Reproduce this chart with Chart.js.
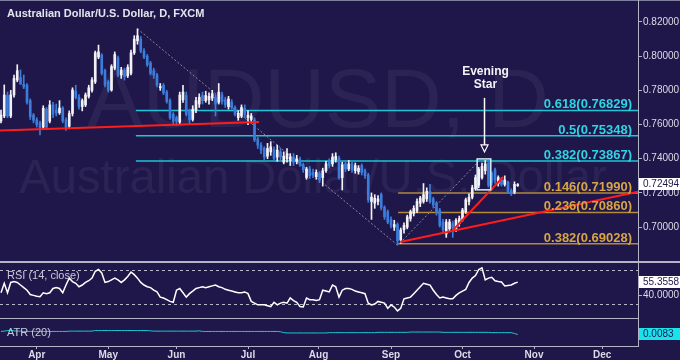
<!DOCTYPE html>
<html lang="en">
<head>
  <meta charset="UTF-8">
  <title>AUDUSD, D</title>
  <script src="https://cdn.jsdelivr.net/npm/chart.js"></script>
  <style>
    html, body { margin: 0; padding: 0; background: #1f1749; }
    .wrap { position: relative; width: 680px; height: 360px; background: #1f1749; overflow: hidden; }
    .wrap canvas { position: absolute; left: 0; }
    #priceChart { top: 0; }
    #rsiChart { top: 263px; }
    #atrChart { top: 319px; }
    .sep { position: absolute; background: #b4b4c8; }
  </style>
</head>
<body>
<div class="wrap">
  <canvas id="priceChart" width="680" height="261"></canvas>
  <canvas id="rsiChart" width="680" height="55"></canvas>
  <canvas id="atrChart" width="680" height="41"></canvas>
  <div class="sep" style="left:0;top:0;width:680px;height:1px;background:#7f7fa0"></div>
  <div class="sep" style="left:0;top:261px;width:680px;height:2px"></div>
  <div class="sep" style="left:0;top:318px;width:639px;height:1px"></div>
  <div class="sep" style="left:638px;top:0;width:1px;height:347px"></div>
</div>

<script>
  // bar index 0 = 17 Mar, one bar per weekday
  const xMin = -0.3077, xMax = 196;
  const monthTicks = [11, 33, 54, 76, 97.7, 120, 142, 164, 185];
  const monthLabels = ['Apr', 'May', 'Jun', 'Jul', 'Aug', 'Sep', 'Oct', 'Nov', 'Dec'];

  const priceTicks = [0.70, 0.72, 0.74, 0.76, 0.78, 0.80, 0.82];
  const priceMin = 0.68018, priceMax = 0.83287;

  const opens = [
    .7621,.7650,.7770,.7650,.7773,.7860,.7875,.7835,.7830,.7740,
    .7655,.7627,.7610,.7585,.7690,.7620,.7715,.7685,.7670,.7697,
    .7627,.7590,.7665,.7795,.7760,.7705,.7715,.7765,.7800,.7850,
    .7995,.8007,.7915,.7850,.7802,.7930,.7990,.7890,.7919,.7885,
    .7900,.8020,.8090,.8100,.8030,.8000,.7960,.7915,.7890,.7815,
    .7830,.7790,.7740,.7660,.7640,.7615,.7745,.7770,.7680,.7630,
    .7685,.7720,.7770,.7740,.7745,.7755,.7760,.7730,.7775,.7745,
    .7705,.7730,.7700,.7640,.7650,.7695,.7640,.7630,.7627,.7515,
    .7480,.7460,.7415,.7440,.7455,.7410,.7440,.7380,.7400,.7390,
    .7410,.7385,.7395,.7365,.7290,.7340,.7320,.7295,.7315,.7290,
    .7330,.7385,.7370,.7395,.7404,.7290,.7370,.7340,.7370,.7330,
    .7325,.7360,.7330,.7305,.7150,.7140,.7150,.7190,.7115,.7090,
    .7045,.7000,.7015,.6925,.6985,.7000,.7050,.7080,.7095,.7140,
    .7150,.7165,.7210,.7165,.7140,.7100,.7030,.6960,.6990,.7020,
    .6985,.7020,.7045,.7090,.7150,.7175,.7225,.7245,.7290,.7330,
    .7375,.7315,.7335,.7255,.7276,.7250,.7265,.7215,.7205,.7243
  ];
  const highs = [
    .7685,.7832,.7790,.7800,.7890,.7950,.7920,.7890,.7840,.7750,
    .7665,.7640,.7620,.7710,.7700,.7740,.7730,.7720,.7740,.7705,
    .7640,.7680,.7815,.7830,.7775,.7750,.7785,.7830,.7875,.8030,
    .8065,.8015,.7925,.7860,.7950,.8025,.8000,.7935,.7930,.7950,
    .8035,.8120,.8160,.8115,.8045,.8010,.7970,.7930,.7900,.7840,
    .7840,.7800,.7750,.7670,.7650,.7790,.7830,.7790,.7690,.7710,
    .7760,.7780,.7790,.7795,.7785,.7800,.7775,.7840,.7790,.7760,
    .7765,.7745,.7710,.7680,.7715,.7715,.7680,.7665,.7640,.7525,
    .7495,.7470,.7490,.7500,.7470,.7480,.7460,.7440,.7460,.7430,
    .7430,.7420,.7410,.7375,.7350,.7355,.7340,.7335,.7325,.7345,
    .7385,.7400,.7430,.7435,.7415,.7380,.7385,.7390,.7385,.7375,
    .7360,.7370,.7340,.7315,.7200,.7190,.7185,.7200,.7125,.7100,
    .7060,.7040,.7025,.6995,.7025,.7070,.7100,.7125,.7165,.7180,
    .7255,.7230,.7250,.7175,.7150,.7110,.7045,.7045,.7045,.7035,
    .7050,.7065,.7110,.7170,.7195,.7245,.7305,.7350,.7375,.7390,
    .7385,.7325,.7345,.7300,.7290,.7300,.7270,.7225,.7265,.7255
  ];
  const lows = [
    .7610,.7640,.7640,.7640,.7760,.7850,.7850,.7810,.7720,.7630,
    .7610,.7585,.7540,.7575,.7570,.7610,.7640,.7650,.7660,.7610,
    .7565,.7575,.7650,.7750,.7690,.7680,.7705,.7755,.7790,.7840,
    .7985,.7890,.7820,.7790,.7795,.7920,.7880,.7870,.7860,.7875,
    .7890,.8010,.8070,.8020,.7985,.7940,.7890,.7870,.7820,.7800,
    .7775,.7725,.7630,.7600,.7595,.7600,.7730,.7650,.7600,.7620,
    .7670,.7700,.7720,.7730,.7720,.7740,.7650,.7720,.7720,.7700,
    .7690,.7690,.7650,.7625,.7640,.7640,.7600,.7610,.7500,.7460,
    .7430,.7395,.7400,.7420,.7390,.7385,.7395,.7370,.7380,.7360,
    .7360,.7370,.7355,.7320,.7280,.7285,.7290,.7280,.7260,.7240,
    .7320,.7345,.7355,.7380,.7280,.7217,.7325,.7330,.7320,.7315,
    .7310,.7305,.7285,.7145,.7045,.7110,.7130,.7100,.7045,.7020,
    .6995,.6980,.6895,.6905,.6965,.6990,.7035,.7065,.7085,.7120,
    .7140,.7150,.7140,.7115,.7070,.7000,.6970,.6940,.6975,.6940,
    .6975,.7005,.7035,.7080,.7130,.7165,.7215,.7230,.7280,.7310,
    .7235,.7245,.7255,.7240,.7240,.7240,.7195,.7185,.7195,.7238
  ];
  const closes = [
    .7656,.7773,.7650,.7773,.7870,.7915,.7835,.7820,.7730,.7645,
    .7625,.7600,.7580,.7695,.7585,.7715,.7660,.7668,.7697,.7621,
    .7580,.7665,.7802,.7760,.7705,.7740,.7773,.7815,.7861,.8020,
    .8025,.7900,.7832,.7802,.7939,.8010,.7890,.7919,.7880,.7935,
    .8020,.8100,.8120,.8030,.7995,.7950,.7900,.7890,.7832,.7822,
    .7785,.7735,.7640,.7620,.7620,.7773,.7790,.7660,.7627,.7690,
    .7740,.7760,.7740,.7770,.7765,.7780,.7720,.7790,.7735,.7715,
    .7750,.7700,.7660,.7665,.7700,.7660,.7655,.7650,.7510,.7480,
    .7451,.7410,.7460,.7470,.7400,.7450,.7410,.7415,.7430,.7410,
    .7380,.7400,.7365,.7335,.7340,.7300,.7305,.7320,.7276,.7330,
    .7370,.7360,.7410,.7415,.7290,.7365,.7340,.7370,.7335,.7360,
    .7345,.7320,.7300,.7159,.7175,.7170,.7165,.7115,.7060,.7030,
    .7010,.7015,.6920,.6983,.7010,.7060,.7090,.7110,.7150,.7170,
    .7190,.7210,.7150,.7130,.7085,.7010,.6985,.7030,.7030,.6995,
    .7040,.7050,.7100,.7160,.7175,.7230,.7290,.7340,.7355,.7370,
    .7245,.7260,.7275,.7290,.7250,.7276,.7205,.7200,.7250,.7249
  ];
  const lastPrice = 0.72494;

  const rsiValues = [
    43,54,43,55,56,55,52,49,46,41,
    40,39,38.5,43,42,43,48,49,48,43,
    52,60,56,54,50,52,55,57,60,68,
    70,66,55,56,58,60,58,55,58,62,
    67,64,60,55,52,50,49,46,44,38,
    37,35,33,32,46,48,43,38,42,45,
    48,49,50,49,50,51,52,50,49,47,
    46,45,44,43,43,44,42,33,31,29,
    29,29,28,27,32,29,31,32,31,37,
    34,32,27,26.5,37,35,35,34,35,46,
    45,44,52,50,38,46,48,48,47,45,
    44,43,42,31,29,30,33,32,31,25,
    29,26.5,22,25,36,37,38,42,46,50,
    54,53,52,46,41,37,38,37,36,36,
    40,43,45,47,55,60,63,70,72,58,
    60,61,57,56,55.5,51,51.5,52,54,55.3558
  ];
  const rsiLevels = [30, 70];
  const rsiTicks = [40];
  const rsiMin = 13.77, rsiMax = 77.54;
  const lastRsi = 55.3558;

  const atrValues = [
    .0093,.0094,.0096,.0096,.0095,.0094,.0094,.0093,.0093,.0093,
    .0093,.0093,.0093,.0093,.0093,.0093,.0093,.0093,.0093,.0093,
    .0093,.0094,.0094,.0094,.0094,.0094,.0094,.0094,.0094,.0096,
    .0096,.0096,.0096,.0096,.0096,.0096,.0096,.0096,.0096,.0096,
    .0096,.0096,.0096,.0096,.0096,.0096,.0095,.0094,.0094,.0094,
    .0094,.0094,.0094,.0094,.0094,.0094,.0094,.0094,.0094,.0094,
    .0094,.0095,.0093,.0093,.0093,.0093,.0093,.0093,.0093,.0093,
    .0093,.0093,.0093,.0093,.0093,.0093,.0093,.0093,.0093,.0093,
    .0093,.0093,.0093,.0093,.0093,.0093,.0092,.0089,.0088,.0088,
    .0088,.0088,.0088,.0088,.0088,.0088,.0088,.0088,.0088,.0088,
    .0088,.0089,.0089,.0089,.0089,.0089,.0089,.0089,.0089,.0089,
    .0089,.0089,.0089,.0089,.0089,.0089,.0090,.0090,.0090,.0090,
    .0090,.0090,.0090,.0090,.0090,.0090,.0091,.0091,.0091,.0091,
    .0091,.0091,.0091,.0091,.0091,.0091,.0090,.0090,.0090,.0090,
    .0090,.0090,.0090,.0090,.0090,.0090,.0090,.0090,.0090,.0090,
    .0090,.0089,.0089,.0089,.0089,.0089,.0089,.0089,.0086,.0083
  ];
  const atrMin = 0.0045, atrMax = 0.0134;
  const lastAtr = 0.0083;

  const fibCyanLevels = [0.76829, 0.75348, 0.73867];
  const fibCyanLabels = ['0.618(0.76829)', '0.5(0.75348)', '0.382(0.73867)'];
  const fibCyanStart = 41.5;
  const fibGoldLevels = [0.71990, 0.70860, 0.69028];
  const fibGoldLabels = ['0.146(0.71990)', '0.236(0.70860)', '0.382(0.69028)'];
  const fibGoldStart = 122.2;

  const trendLines = [
    [[-0.3, 0.7565], [79.4, 0.7615]],
    [[122.8, 0.6913], [196, 0.7207]],
    [[139.1, 0.6983], [154.5, 0.7293]]
  ];
  const fibDiagonals = [
    [[42, 0.8160], [122, 0.6895]],
    [[122.8, 0.6907], [147.4, 0.7393]]
  ];
  const starBox = { x0: 146.5, x1: 150.7, lo: 0.7218, hi: 0.7399 };
  const starArrow = { x: 148.6, top: 0.7756, tip: 0.7440 };

  const BG = '#1f1749';
  const UP = '#f2f2f6', DOWN = '#3c7ddc';
  const CYAN = '#1cc6d6', CYAN_TEXT = '#2fd3e3';
  const GOLD = '#b38a3a', GOLD_TEXT = '#d6a545';
  const RED = '#ff1c1c', DOTTED = '#8a8aa0';
  const AXIS = '#b4b4c8', TEXT = '#dcdce8';
  const WATERMARK = 'rgba(255,255,255,0.055)';
  const FONT = '"Liberation Sans", Arial, sans-serif';

  const idx = closes.map((c, i) => i);
  const candleCols = idx.map(i => closes[i] >= opens[i] ? UP : DOWN);

  function hiddenX() {
    return { type: 'linear', min: xMin, max: xMax, display: false, offset: false, grid: { offset: false } };
  }

  function rightAxis(min, max, ticks, fmt, show) {
    return {
      position: 'right', min: min, max: max,
      afterBuildTicks: s => { s.ticks = ticks.map(v => ({ value: v })); },
      afterFit: s => { s.width = 42; s.paddingTop = 0; s.paddingBottom = 0; },
      grid: { display: true, drawOnChartArea: false, drawTicks: true, tickLength: 4, color: AXIS },
      border: { display: true, color: AXIS },
      ticks: { display: show, padding: 1, color: TEXT, font: { family: FONT, size: 10 }, callback: fmt }
    };
  }

  function valueBox(ctx, area, y, text, fill) {
    ctx.save();
    ctx.fillStyle = fill;
    ctx.fillRect(area.right + 1, Math.round(y) - 6, 42, 12);
    ctx.fillStyle = BG;
    ctx.font = '10px ' + FONT;
    ctx.textAlign = 'left';
    ctx.textBaseline = 'middle';
    ctx.fillText(text, area.right + 5, Math.round(y) + 0.5);
    ctx.restore();
  }

  const baseOptions = {
    responsive: false,
    devicePixelRatio: 1,
    animation: false,
    events: [],
    layout: { padding: 0 },
    plugins: { legend: { display: false }, tooltip: { enabled: false } }
  };

  function lineSet(points, color, width, dash, order) {
    return {
      type: 'line',
      data: points.map(p => ({ x: p[0], y: p[1] })),
      borderColor: color, borderWidth: width, borderDash: dash,
      pointRadius: 0, fill: false, tension: 0, order: order
    };
  }

  // ---------- price panel ----------
  const priceSets = [];
  fibCyanLevels.forEach(v => priceSets.push(lineSet([[fibCyanStart, v], [xMax, v]], CYAN, 1.5, [], 5)));
  fibGoldLevels.forEach(v => priceSets.push(lineSet([[fibGoldStart, v], [xMax, v]], GOLD, 1.5, [], 5)));
  fibDiagonals.forEach(l => priceSets.push(lineSet(l, DOTTED, 1, [2, 2], 4)));
  priceSets.push({
    type: 'bar', order: 3, grouped: false,
    data: idx.map(i => ({ x: i, y: [lows[i], highs[i]] })),
    backgroundColor: candleCols, barThickness: 1, borderWidth: 0
  });
  priceSets.push({
    type: 'bar', order: 2, grouped: false, minBarLength: 1,
    data: idx.map(i => ({ x: i, y: [Math.min(opens[i], closes[i]), Math.max(opens[i], closes[i])] })),
    backgroundColor: candleCols, barThickness: 2, borderWidth: 0
  });
  trendLines.forEach(l => priceSets.push(lineSet(l, RED, 2, [], 1)));

  const pricePlugin = {
    id: 'priceDecor',
    beforeDatasetsDraw(chart) {
      const { ctx, chartArea: a } = chart;
      ctx.save();
      ctx.beginPath();
      ctx.rect(a.left, a.top, a.right - a.left, a.bottom - a.top);
      ctx.clip();
      ctx.fillStyle = WATERMARK;
      ctx.textAlign = 'center';
      ctx.textBaseline = 'alphabetic';
      ctx.font = '84px ' + FONT;
      ctx.fillText('AUDUSD, D', 318, 127);
      ctx.font = '45px ' + FONT;
      const w = ctx.measureText('Australian Dollar/U.S. Dollar').width;
      ctx.font = (45 * 587 / w).toFixed(1) + 'px ' + FONT;
      ctx.fillText('Australian Dollar/U.S. Dollar', 313, 193);
      ctx.restore();
    },
    afterDatasetsDraw(chart) {
      const { ctx, chartArea: a, scales } = chart;
      const xs = scales.x, ys = scales.y;
      ctx.save();
      // fib labels
      ctx.font = 'bold 13px ' + FONT;
      ctx.textAlign = 'right';
      ctx.textBaseline = 'alphabetic';
      ctx.fillStyle = CYAN_TEXT;
      fibCyanLevels.forEach((v, k) => ctx.fillText(fibCyanLabels[k], a.right - 6, ys.getPixelForValue(v) - 2));
      ctx.fillStyle = GOLD_TEXT;
      fibGoldLevels.forEach((v, k) => ctx.fillText(fibGoldLabels[k], a.right - 6, ys.getPixelForValue(v) - 2));

      // evening star box, arrow and note
      const bx0 = xs.getPixelForValue(starBox.x0), bx1 = xs.getPixelForValue(starBox.x1);
      const by0 = ys.getPixelForValue(starBox.hi), by1 = ys.getPixelForValue(starBox.lo);
      ctx.strokeStyle = '#d4eef6';
      ctx.lineWidth = 1.5;
      ctx.strokeRect(bx0, by0, bx1 - bx0, by1 - by0);
      const ax = Math.round(xs.getPixelForValue(starArrow.x)) + 0.5;
      const aTop = ys.getPixelForValue(starArrow.top), aTip = ys.getPixelForValue(starArrow.tip);
      ctx.strokeStyle = '#ffffff';
      ctx.lineWidth = 1.5;
      ctx.beginPath();
      ctx.moveTo(ax, aTop);
      ctx.lineTo(ax, aTip - 7);
      ctx.stroke();
      ctx.lineWidth = 1.2;
      ctx.beginPath();
      ctx.moveTo(ax - 3.5, aTip - 7);
      ctx.lineTo(ax + 3.5, aTip - 7);
      ctx.lineTo(ax, aTip);
      ctx.closePath();
      ctx.stroke();
      ctx.fillStyle = '#f4f4f8';
      ctx.font = 'bold 12px ' + FONT;
      ctx.textAlign = 'center';
      ctx.textBaseline = 'middle';
      ctx.fillText('Evening', ax + 1, aTop - 26.5);
      ctx.fillText('Star', ax + 1, aTop - 13.5);

      // title
      ctx.textAlign = 'left';
      ctx.font = 'bold 11px ' + FONT;
      ctx.fillStyle = '#e4e4ee';
      ctx.fillText('Australian Dollar/U.S. Dollar, D, FXCM', 7, 14);
      ctx.restore();

      valueBox(ctx, a, ys.getPixelForValue(lastPrice), lastPrice.toFixed(5), '#ffffff');
    }
  };

  new Chart(document.getElementById('priceChart'), {
    type: 'bar',
    data: { datasets: priceSets },
    options: Object.assign({}, baseOptions, {
      scales: {
        x: hiddenX(),
        y: rightAxis(priceMin, priceMax, priceTicks, v => Number(v).toFixed(5), true)
      }
    }),
    plugins: [pricePlugin]
  });

  // ---------- RSI panel ----------
  const rsiPlugin = {
    id: 'rsiDecor',
    beforeDatasetsDraw(chart) {
      const { ctx, chartArea: a, scales } = chart;
      ctx.save();
      ctx.strokeStyle = '#b8b8cc';
      ctx.lineWidth = 1;
      ctx.setLineDash([3, 3]);
      rsiLevels.forEach(v => {
        const y = Math.round(scales.y.getPixelForValue(v)) + 0.5;
        ctx.beginPath();
        ctx.moveTo(a.left, y);
        ctx.lineTo(a.right, y);
        ctx.stroke();
      });
      ctx.restore();
    },
    afterDatasetsDraw(chart) {
      const { ctx, chartArea: a, scales } = chart;
      ctx.save();
      ctx.fillStyle = '#c8c8d8';
      ctx.font = '11px ' + FONT;
      ctx.textBaseline = 'middle';
      ctx.fillText('RSI (14, close)', 7, 13);
      ctx.restore();
      valueBox(ctx, a, scales.y.getPixelForValue(lastRsi), lastRsi.toFixed(4), '#ffffff');
    }
  };

  new Chart(document.getElementById('rsiChart'), {
    type: 'line',
    data: {
      datasets: [{
        data: idx.map(i => ({ x: i, y: rsiValues[i] })),
        borderColor: '#ffffff', borderWidth: 1.5, pointRadius: 0, tension: 0, fill: false
      }]
    },
    options: Object.assign({}, baseOptions, {
      scales: {
        x: hiddenX(),
        y: rightAxis(rsiMin, rsiMax, rsiTicks, v => Number(v).toFixed(4), true)
      }
    }),
    plugins: [rsiPlugin]
  });

  // ---------- ATR panel + date axis ----------
  const atrPlugin = {
    id: 'atrDecor',
    afterDatasetsDraw(chart) {
      const { ctx, chartArea: a, scales } = chart;
      ctx.save();
      ctx.fillStyle = '#c8c8d8';
      ctx.font = '11px ' + FONT;
      ctx.textBaseline = 'middle';
      ctx.fillText('ATR (20)', 7, 14);
      ctx.restore();
      valueBox(ctx, a, scales.y.getPixelForValue(lastAtr), lastAtr.toFixed(4), '#19e4ee');
    }
  };

  new Chart(document.getElementById('atrChart'), {
    type: 'line',
    data: {
      datasets: [{
        data: idx.map(i => ({ x: i, y: atrValues[i] })),
        borderColor: CYAN, borderWidth: 1, pointRadius: 0, tension: 0, fill: false
      }]
    },
    options: Object.assign({}, baseOptions, {
      scales: {
        x: {
          type: 'linear', min: xMin, max: xMax, position: 'bottom', offset: false,
          afterBuildTicks: s => { s.ticks = monthTicks.map(v => ({ value: v })); },
          afterFit: s => { s.height = 14; s.paddingLeft = 0; s.paddingRight = 0; },
          grid: { drawOnChartArea: false, drawTicks: true, tickLength: 3, color: AXIS, offset: false },
          border: { display: true, color: AXIS },
          ticks: {
            autoSkip: false, maxRotation: 0, padding: 0, color: TEXT,
            font: { family: FONT, size: 10, weight: 'bold' },
            callback: (v, i) => monthLabels[i]
          }
        },
        y: rightAxis(atrMin, atrMax, [], v => v, false)
      }
    }),
    plugins: [atrPlugin]
  });
</script>
</body>
</html>
